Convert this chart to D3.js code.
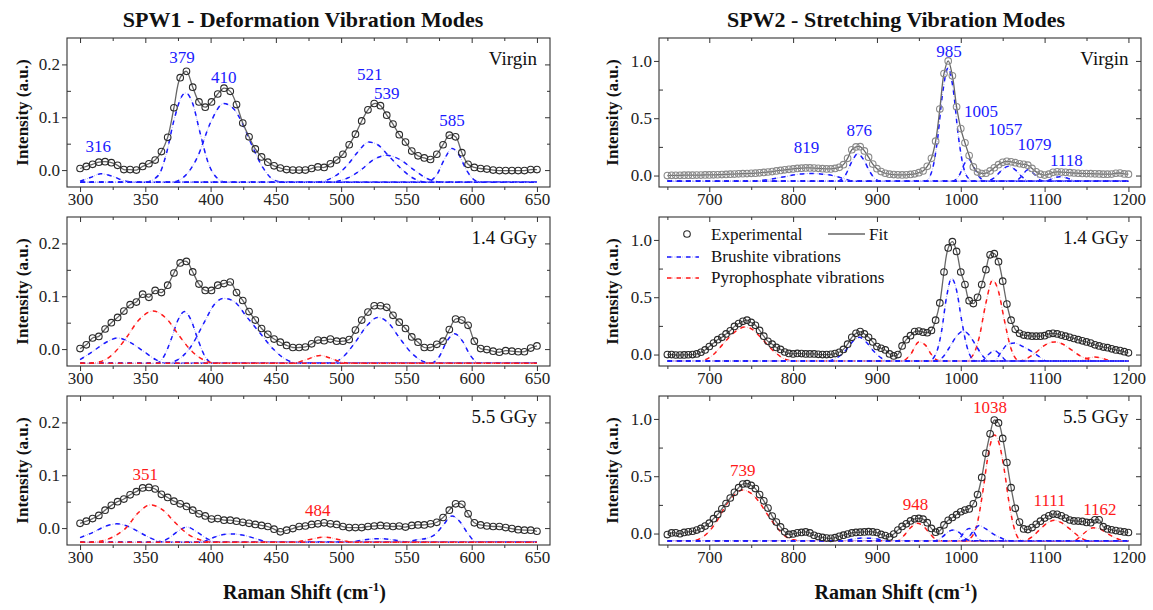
<!DOCTYPE html>
<html><head><meta charset="utf-8">
<script src="https://cdn.jsdelivr.net/npm/d3@7"></script>
<style>
body{margin:0;background:#fff;}
svg text{font-family:"Liberation Serif","Times New Roman",serif;}
</style></head><body>
<svg id="chart" width="1153" height="610"></svg>
<script>
// ---------- DATA ----------
const spw1X = d3.range(74).map(i => 300 + i * 350 / 73);   // sampling grid 300..650
const spw2X = d3.range(650, 1201, 5);                      // sampling grid 650..1200

const spw1VirginExp = [0.003,0.007,0.011,0.015,0.016,0.014,0.009,0.001,0.001,0.000,
 0.007,0.012,0.019,0.035,0.062,0.118,0.175,0.187,0.157,0.129,
 0.119,0.129,0.144,0.155,0.149,0.124,0.089,0.063,0.040,0.025,
 0.015,0.008,0.004,0.001,0.000,0.000,0.000,0.003,0.006,0.005,
 0.012,0.019,0.030,0.048,0.068,0.093,0.114,0.126,0.122,0.104,
 0.087,0.067,0.053,0.036,0.027,0.023,0.020,0.030,0.048,0.066,
 0.063,0.033,0.011,0.005,0.003,0.002,0.000,-0.001,-0.001,-0.001,
 -0.001,-0.001,0.001,0.001];
const spw1Gy14Exp = [0.001,0.008,0.021,0.024,0.038,0.050,0.060,0.072,0.084,0.089,
 0.104,0.098,0.111,0.107,0.121,0.144,0.163,0.166,0.146,0.123,
 0.111,0.111,0.121,0.124,0.127,0.107,0.092,0.071,0.055,0.039,
 0.028,0.019,0.013,0.007,0.003,0.003,0.004,0.010,0.017,0.016,
 0.019,0.015,0.015,0.018,0.036,0.055,0.070,0.082,0.082,0.079,
 0.064,0.051,0.039,0.023,0.013,0.003,0.003,0.009,0.015,0.037,
 0.057,0.055,0.045,0.015,0.001,-0.001,-0.004,-0.006,-0.003,-0.004,
 -0.005,-0.005,0.002,0.006];
const spw1Gy55Exp = [0.009,0.013,0.018,0.024,0.034,0.043,0.050,0.055,0.063,0.069,
 0.076,0.077,0.074,0.064,0.058,0.051,0.046,0.041,0.034,0.027,
 0.023,0.017,0.018,0.015,0.015,0.013,0.011,0.009,0.007,0.005,
 0.003,-0.002,-0.007,-0.004,-0.001,0.003,0.004,0.007,0.008,0.010,
 0.008,0.007,0.003,0.001,0.001,0.001,0.003,0.004,0.005,0.004,
 0.003,0.004,0.002,0.005,0.006,0.006,0.008,0.011,0.020,0.034,
 0.046,0.045,0.027,0.010,0.006,0.004,0.003,0.003,0.001,-0.001,
 -0.003,-0.004,-0.004,-0.006];

const spw2VirginExp = [0.000,0.002,0.002,0.002,0.003,0.003,0.003,0.004,0.004,0.005,
 0.005,0.006,0.007,0.008,0.010,0.012,0.013,0.015,0.016,0.017,
 0.019,0.021,0.024,0.027,0.031,0.035,0.040,0.045,0.050,0.054,
 0.058,0.062,0.064,0.066,0.066,0.065,0.063,0.060,0.058,0.058,
 0.062,0.072,0.095,0.150,0.225,0.250,0.252,0.215,0.160,0.100,
 0.060,0.035,0.020,0.012,0.008,0.006,0.005,0.006,0.010,0.015,
 0.025,0.040,0.080,0.150,0.300,0.580,0.890,1.000,0.870,0.600,
 0.410,0.285,0.175,0.075,0.030,0.018,0.020,0.040,0.068,0.095,
 0.115,0.124,0.120,0.112,0.103,0.098,0.090,0.062,0.032,0.012,
 0.004,0.012,0.028,0.032,0.030,0.028,0.025,0.022,0.020,0.018,
 0.017,0.016,0.015,0.014,0.012,0.012,0.013,0.020,0.022,0.014,
 0.012];
const spw2Gy14Exp = [0.000,0.000,-0.004,-0.004,-0.003,-0.002,0.000,0.005,0.020,0.040,
 0.070,0.100,0.130,0.150,0.180,0.207,0.245,0.270,0.290,0.300,
 0.280,0.255,0.210,0.160,0.115,0.090,0.062,0.045,0.022,0.010,
 0.005,0.010,0.008,0.005,0.005,0.005,0.002,0.000,0.000,0.002,
 0.008,0.020,0.045,0.090,0.150,0.185,0.200,0.180,0.150,0.110,
 0.070,0.055,0.040,0.005,-0.012,0.000,0.075,0.130,0.165,0.200,
 0.205,0.195,0.190,0.210,0.300,0.450,0.720,0.930,0.985,0.900,
 0.720,0.610,0.470,0.445,0.500,0.610,0.740,0.870,0.880,0.810,
 0.640,0.440,0.300,0.220,0.185,0.170,0.165,0.160,0.160,0.160,
 0.165,0.180,0.185,0.180,0.170,0.160,0.150,0.140,0.130,0.120,
 0.110,0.100,0.085,0.075,0.065,0.060,0.050,0.040,0.035,0.025,
 0.015];
const spw2Gy55Exp = [-0.009,0.005,0.006,-0.002,0.010,0.015,0.020,0.030,0.045,0.065,
 0.090,0.130,0.167,0.216,0.262,0.310,0.360,0.400,0.432,0.435,
 0.420,0.392,0.340,0.285,0.222,0.152,0.100,0.058,0.015,-0.008,
 -0.003,0.006,0.010,0.014,0.005,-0.015,-0.026,-0.034,-0.040,-0.042,
 -0.036,-0.024,-0.014,-0.004,0.005,0.010,0.012,0.014,0.016,0.014,
 0.009,-0.008,-0.018,-0.030,-0.005,0.030,0.062,0.085,0.110,0.128,
 0.132,0.125,0.095,0.045,0.012,0.025,0.075,0.115,0.140,0.165,
 0.190,0.205,0.215,0.260,0.340,0.490,0.700,0.870,0.990,0.965,
 0.830,0.620,0.400,0.220,0.100,0.040,0.035,0.052,0.080,0.108,
 0.135,0.155,0.170,0.168,0.155,0.135,0.118,0.110,0.109,0.106,
 0.097,0.095,0.120,0.120,0.060,0.040,0.033,0.026,0.020,0.014,
 0.009];

// fitted component bands: [shift, intensity] (b = brushite, r = pyrophosphate)
const spw1VirginComps = [
 {c:'b', pts:[[300,-0.021],[308,-0.014],[316,-0.007],[324,-0.011],[335,-0.021],[345,-0.023]]},
 {c:'b', pts:[[350,-0.023],[360,-0.010],[366,0.030],[372,0.095],[378,0.140],[381,0.146],[386,0.128],[392,0.070],[398,0.015],[405,-0.015],[412,-0.023]]},
 {c:'b', pts:[[370,-0.023],[380,-0.012],[390,0.025],[400,0.090],[410,0.126],[418,0.115],[425,0.085],[432,0.045],[440,0.005],[448,-0.018],[456,-0.023]]},
 {c:'b', pts:[[480,-0.023],[495,-0.012],[505,0.010],[513,0.035],[521,0.053],[528,0.048],[536,0.028],[545,0.005],[555,-0.015],[565,-0.023]]},
 {c:'b', pts:[[490,-0.023],[505,-0.015],[515,0.000],[525,0.020],[535,0.028],[545,0.020],[555,0.002],[565,-0.015],[578,-0.023]]},
 {c:'b', pts:[[565,-0.023],[573,-0.010],[579,0.020],[585,0.041],[590,0.030],[596,0.000],[603,-0.020],[610,-0.023]]}
];
const spw1Gy14Comps = [
 {c:'b', pts:[[300,-0.020],[310,-0.004],[320,0.013],[329,0.021],[338,0.013],[348,-0.003],[358,-0.020],[366,-0.027]]},
 {c:'b', pts:[[358,-0.027],[364,-0.015],[370,0.020],[375,0.055],[380,0.071],[385,0.055],[390,0.020],[396,-0.015],[402,-0.027]]},
 {c:'b', pts:[[365,-0.027],[375,-0.020],[385,0.005],[395,0.050],[403,0.085],[410,0.096],[418,0.090],[428,0.060],[438,0.030],[448,0.000],[458,-0.020],[468,-0.027]]},
 {c:'b', pts:[[490,-0.027],[500,-0.018],[510,0.010],[520,0.045],[528,0.060],[536,0.050],[545,0.020],[555,-0.010],[565,-0.025],[572,-0.027]]},
 {c:'b', pts:[[568,-0.027],[575,-0.015],[581,0.015],[587,0.029],[593,0.015],[599,-0.012],[606,-0.027]]},
 {c:'r', pts:[[305,-0.027],[315,-0.024],[325,-0.010],[335,0.020],[345,0.055],[356,0.072],[366,0.058],[376,0.025],[386,-0.005],[396,-0.022],[406,-0.027]]},
 {c:'r', pts:[[462,-0.027],[472,-0.021],[484,-0.012],[496,-0.021],[506,-0.027]]}
];
const spw1Gy55Comps = [
 {c:'b', pts:[[300,-0.018],[310,-0.008],[320,0.004],[328,0.008],[337,0.003],[347,-0.010],[357,-0.022],[365,-0.027]]},
 {c:'b', pts:[[360,-0.027],[368,-0.019],[375,-0.006],[382,0.002],[390,-0.008],[398,-0.021],[405,-0.027]]},
 {c:'b', pts:[[392,-0.027],[400,-0.020],[408,-0.013],[416,-0.011],[426,-0.014],[436,-0.021],[446,-0.027]]},
 {c:'b', pts:[[505,-0.027],[518,-0.022],[530,-0.020],[542,-0.023],[552,-0.027]]},
 {c:'b', pts:[[548,-0.027],[558,-0.022],[566,-0.019],[572,-0.012],[578,0.005],[585,0.023],[591,0.012],[597,-0.010],[604,-0.027]]},
 {c:'r', pts:[[305,-0.027],[315,-0.025],[325,-0.017],[335,0.000],[345,0.030],[354,0.044],[363,0.035],[373,0.010],[383,-0.012],[393,-0.023],[403,-0.027]]},
 {c:'r', pts:[[462,-0.027],[475,-0.022],[487,-0.017],[499,-0.022],[510,-0.027]]}
];
const spw2VirginComps = [
 {c:'r', pts:[]},
 {c:'b', pts:[[750,-0.05],[770,-0.035],[790,-0.010],[805,0.010],[820,0.018],[835,0.012],[850,-0.005],[862,-0.030],[872,-0.05]]},
 {c:'b', pts:[[852,-0.05],[862,0.000],[870,0.120],[877,0.190],[884,0.140],[891,0.040],[898,-0.030],[905,-0.05]]},
 {c:'b', pts:[[958,-0.05],[966,0.050],[972,0.300],[978,0.700],[985,0.940],[991,0.750],[997,0.350],[1003,0.080],[1010,-0.030],[1016,-0.05]]},
 {c:'b', pts:[[990,-0.05],[998,0.000],[1005,0.110],[1010,0.140],[1015,0.080],[1022,-0.010],[1030,-0.05]]},
 {c:'b', pts:[[1030,-0.05],[1040,-0.020],[1048,0.040],[1057,0.080],[1065,0.050],[1073,-0.010],[1082,-0.05]]},
 {c:'b', pts:[[1065,-0.05],[1072,-0.010],[1080,0.050],[1088,0.010],[1095,-0.040],[1100,-0.05]]},
 {c:'b', pts:[[1100,-0.05],[1110,-0.025],[1118,-0.010],[1128,-0.025],[1140,-0.05]]}
];
const spw2Gy14Comps = [
 {c:'r', pts:[[685,-0.056],[695,-0.045],[705,0.000],[715,0.080],[725,0.160],[735,0.220],[742,0.240],[750,0.225],[760,0.160],[770,0.080],[780,0.010],[790,-0.040],[800,-0.056]]},
 {c:'r', pts:[[930,-0.056],[940,0.000],[950,0.110],[958,0.080],[965,0.000],[972,-0.050],[978,-0.056]]},
 {c:'r', pts:[[1005,-0.056],[1015,0.000],[1022,0.150],[1030,0.450],[1038,0.650],[1045,0.550],[1052,0.300],[1060,0.050],[1068,-0.050],[1072,-0.056]]},
 {c:'r', pts:[[1070,-0.056],[1080,-0.030],[1090,0.020],[1100,0.080],[1112,0.110],[1122,0.090],[1132,0.040],[1142,-0.010],[1152,-0.040],[1160,-0.056]]},
 {c:'r', pts:[[1140,-0.056],[1150,-0.035],[1160,-0.022],[1170,-0.035],[1180,-0.056]]},
 {c:'b', pts:[[842,-0.056],[852,-0.030],[862,0.030],[872,0.120],[879,0.150],[887,0.110],[896,0.030],[905,-0.030],[912,-0.056]]},
 {c:'b', pts:[[962,-0.056],[970,0.000],[977,0.200],[983,0.500],[989,0.665],[995,0.560],[1001,0.300],[1007,0.080],[1013,-0.030],[1020,-0.056]]},
 {c:'b', pts:[[972,-0.056],[980,-0.010],[988,0.080],[996,0.170],[1003,0.205],[1010,0.170],[1018,0.080],[1026,-0.010],[1034,-0.056]]},
 {c:'b', pts:[[1025,-0.056],[1033,0.000],[1040,0.035],[1047,0.000],[1055,-0.056]]},
 {c:'b', pts:[[1040,-0.056],[1048,0.020],[1056,0.090],[1064,0.100],[1074,0.070],[1084,0.030],[1094,-0.020],[1102,-0.056]]}
];
const spw2Gy55Comps = [
 {c:'r', pts:[[680,-0.062],[690,-0.040],[700,0.020],[710,0.120],[720,0.250],[730,0.340],[740,0.380],[750,0.350],[760,0.270],[770,0.160],[780,0.060],[790,-0.020],[800,-0.055],[808,-0.062]]},
 {c:'r', pts:[[925,-0.062],[932,-0.020],[940,0.050],[948,0.090],[956,0.060],[963,0.000],[970,-0.050],[976,-0.062]]},
 {c:'r', pts:[[1005,-0.062],[1013,-0.030],[1020,0.100],[1027,0.400],[1033,0.700],[1040,0.860],[1046,0.780],[1052,0.550],[1058,0.250],[1064,0.040],[1070,-0.050],[1076,-0.062]]},
 {c:'r', pts:[[1075,-0.062],[1085,-0.030],[1095,0.040],[1105,0.100],[1112,0.115],[1120,0.095],[1130,0.040],[1140,-0.020],[1148,-0.055],[1152,-0.062]]},
 {c:'r', pts:[[1135,-0.062],[1142,-0.030],[1150,0.020],[1158,0.050],[1166,0.040],[1175,0.000],[1185,-0.040],[1195,-0.062]]},
 {c:'b', pts:[[860,-0.062],[870,-0.050],[882,-0.040],[895,-0.042],[905,-0.055],[910,-0.062]]},
 {c:'b', pts:[[970,-0.062],[978,-0.030],[986,0.020],[992,0.030],[998,0.010],[1005,-0.040],[1012,-0.062]]},
 {c:'b', pts:[[995,-0.062],[1000,-0.030],[1005,0.020],[1010,0.045],[1015,0.020],[1020,-0.040],[1025,-0.062]]},
 {c:'b', pts:[[1000,-0.062],[1008,-0.040],[1015,0.020],[1022,0.070],[1030,0.040],[1040,-0.010],[1050,-0.045],[1058,-0.062]]}
];

// band labels: [text, shift, intensity(baseline)]
const spw1VirginPeaks = [['316',314,0.035],['379',378,0.203],['410',410,0.165],['521',522,0.171],['539',535,0.135],['585',585,0.084]];
const spw1Gy55Peaks = [['351',350,0.091],['484',482,0.023]];
const spw2VirginPeaks = [['819',816,0.197],['876',879,0.347],['985',986,1.035],['1005',1024,0.51],['1057',1053,0.355],['1079',1088,0.22],['1118',1126,0.08]];
const spw2Gy55Peaks = [['739',740,0.503],['948',946,0.204],['1038',1035,1.052],['1111',1106,0.238],['1162',1166,0.158]];

const titles = ['SPW1 - Deformation Vibration Modes', 'SPW2 - Stretching Vibration Modes'];
const doses = ['Virgin', '1.4 GGy', '5.5 GGy'];
const legendItems = ['Experimental', 'Fit', 'Brushite vibrations', 'Pyrophosphate vibrations'];
const spw1XTicks = [300,350,400,450,500,550,600,650];
const spw1XMinor = [325,375,425,475,525,575,625];
const spw2XTicks = [700,800,900,1000,1100,1200];
const spw2XMinor = [650,750,850,950,1050,1150];
const spw1YTicks = [0.0,0.1,0.2];
const spw1YMinor = [0.05,0.15];
const spw2YTicks = [0.0,0.5,1.0];
const spw2YMinor = [0.25,0.75];

// ---------- LAYOUT ----------
const svg = d3.select('#chart');
const FONT = '"Liberation Serif","Times New Roman",serif';
const BLUE = '#1a1aff', RED = '#ff1a1a';
const LIGHT = {b:'#a9a9ff', r:'#ffa9a9'};
const rowTops = [38, 217, 396], PH = 149;
const cols = [
 {x0:67, x1:550, xdom:[290,660], ydom:[-0.032,0.25], xs:spw1X, xt:spw1XTicks, xm:spw1XMinor, yt:spw1YTicks, ym:spw1YMinor, ylabX:22, titleX:303},
 {x0:659, x1:1141, xdom:[640,1215], ydom:[-0.1,1.2], xs:spw2X, xt:spw2XTicks, xm:spw2XMinor, yt:spw2YTicks, ym:spw2YMinor, ylabX:612, titleX:896}
];
const panels = [
 {col:0,row:0,exp:spw1VirginExp,comps:spw1VirginComps,base:-0.023,peaks:spw1VirginPeaks,pc:BLUE,ec:'#2a2a2a'},
 {col:0,row:1,exp:spw1Gy14Exp,comps:spw1Gy14Comps,base:-0.027,peaks:[],pc:BLUE,ec:'#2a2a2a'},
 {col:0,row:2,exp:spw1Gy55Exp,comps:spw1Gy55Comps,base:-0.027,peaks:spw1Gy55Peaks,pc:RED,ec:'#2a2a2a'},
 {col:1,row:0,exp:spw2VirginExp,comps:spw2VirginComps,base:-0.05,peaks:spw2VirginPeaks,pc:BLUE,ec:'#8a8a8a'},
 {col:1,row:1,exp:spw2Gy14Exp,comps:spw2Gy14Comps,base:-0.056,peaks:[],pc:BLUE,ec:'#2a2a2a',legend:true},
 {col:1,row:2,exp:spw2Gy55Exp,comps:spw2Gy55Comps,base:-0.062,peaks:spw2Gy55Peaks,pc:RED,ec:'#2a2a2a'}
];

// dash-dot component stroke: faint dotted under-line + dashes
function compStroke(sel, key){
  sel.append('path').attr('fill','none').attr('stroke',LIGHT[key]).attr('stroke-width',1).attr('stroke-dasharray','1,1.5');
  sel.append('path').attr('fill','none').attr('stroke',key==='b'?BLUE:RED).attr('stroke-width',1.5).attr('stroke-dasharray','4.5,5');
}

// titles
cols.forEach((c,i)=>{
  svg.append('text').attr('x',c.titleX).attr('y',27).attr('text-anchor','middle')
    .attr('font-size',22).attr('font-weight','bold').attr('fill','#111').text(titles[i]);
  const t = svg.append('text').attr('x',(c.x0+c.x1)/2 - 4).attr('y',599).attr('text-anchor','middle')
    .attr('font-size',20).attr('font-weight','bold').attr('fill','#111');
  t.append('tspan').text('Raman Shift (cm');
  t.append('tspan').attr('font-size',13).attr('dy',-8).text('-1');
  t.append('tspan').attr('dy',8).text(')');
});

panels.forEach((p,pi)=>{
  const c = cols[p.col];
  const top = rowTops[p.row], bot = top + PH;
  const x = d3.scaleLinear().domain(c.xdom).range([c.x0,c.x1]);
  const y = d3.scaleLinear().domain(c.ydom).range([bot,top]);
  const g = svg.append('g');
  const fmtY = d3.format('.1f');

  const styleAxis = sel => { sel.select('.domain').remove(); sel.attr('font-family',FONT).attr('font-size',17);
    sel.selectAll('line').attr('stroke','#333'); sel.selectAll('text').attr('fill','#222'); };
  g.append('g').attr('transform',`translate(0,${bot})`).call(d3.axisBottom(x).tickValues(c.xt).tickSize(5).tickPadding(1).tickFormat(d3.format('d'))).call(styleAxis);
  g.append('g').attr('transform',`translate(0,${bot})`).call(d3.axisBottom(x).tickValues(c.xm).tickSize(3).tickFormat('')).call(styleAxis);
  g.append('g').attr('transform',`translate(0,${top})`).call(d3.axisTop(x).tickValues(c.xt).tickSize(-5).tickFormat('')).call(styleAxis);
  g.append('g').attr('transform',`translate(0,${top})`).call(d3.axisTop(x).tickValues(c.xm).tickSize(-3).tickFormat('')).call(styleAxis);
  g.append('g').attr('transform',`translate(${c.x0},0)`).call(d3.axisLeft(y).tickValues(c.yt).tickSize(5).tickPadding(2).tickFormat(fmtY)).call(styleAxis);
  g.append('g').attr('transform',`translate(${c.x0},0)`).call(d3.axisLeft(y).tickValues(c.ym).tickSize(-4).tickFormat('')).call(styleAxis);
  g.append('g').attr('transform',`translate(${c.x1},0)`).call(d3.axisRight(y).tickValues(c.yt).tickSize(-5).tickFormat('')).call(styleAxis);
  g.append('g').attr('transform',`translate(${c.x1},0)`).call(d3.axisRight(y).tickValues(c.ym).tickSize(-3).tickFormat('')).call(styleAxis);

  // y label
  g.append('text').attr('transform',`translate(${c.ylabX},${top+PH/2}) rotate(-90)`)
    .attr('text-anchor','middle').attr('dy','0.35em').attr('font-size',17).attr('font-weight','bold').attr('fill','#111')
    .text('Intensity (a.u.)');

  const clipId = 'clip'+pi;
  svg.append('clipPath').attr('id',clipId).append('rect').attr('x',c.x0).attr('y',top).attr('width',c.x1-c.x0).attr('height',PH);
  const plot = g.append('g').attr('clip-path',`url(#${clipId})`);

  const xmin = c.xs[0], xmax = c.xs[c.xs.length-1];
  const compLine = d3.line().x(d=>x(d[0])).y(d=>y(d[1])).curve(d3.curveMonotoneX);
  p.comps.forEach(cp=>{
    let pts = cp.pts.slice();
    if (!pts.length || pts[0][0] > xmin) pts.unshift([xmin,p.base]);
    if (pts[pts.length-1][0] < xmax) pts.push([xmax,p.base]);
    const cg = plot.append('g');
    compStroke(cg, cp.c);
    cg.selectAll('path').attr('d',compLine(pts));
  });

  const expPts = p.exp.map((v,i)=>[c.xs[i],v]);
  const fit = d3.line().x(d=>x(d[0])).y(d=>y(d[1])).curve(d3.curveCatmullRom);
  plot.append('path').attr('d',fit(expPts)).attr('fill','none').attr('stroke','#666').attr('stroke-width',1.3);
  plot.selectAll('circle.e').data(expPts).join('circle').attr('class','e')
    .attr('cx',d=>x(d[0])).attr('cy',d=>y(d[1])).attr('r',3.3)
    .attr('fill','none').attr('stroke',p.ec).attr('stroke-width',1.1);

  g.append('rect').attr('x',c.x0).attr('y',top).attr('width',c.x1-c.x0).attr('height',PH)
    .attr('fill','none').attr('stroke','#333').attr('stroke-width',1.1);

  // dose label
  g.append('text').attr('x',x(c.xt[c.xt.length-1])).attr('y',top+27).attr('text-anchor','end')
    .attr('font-size',19).attr('fill','#111').text(doses[p.row]);

  p.peaks.forEach(pk=>{
    g.append('text').attr('x',x(pk[1])).attr('y',y(pk[2])).attr('text-anchor','middle')
      .attr('font-size',17).attr('fill',p.pc).text(pk[0]);
  });

  if (p.legend){
    const lx = c.x0, ly = top;
    g.append('circle').attr('cx',lx+28).attr('cy',ly+17).attr('r',3.3).attr('fill','none').attr('stroke','#2a2a2a').attr('stroke-width',1.1);
    g.append('text').attr('x',lx+52).attr('y',ly+23).attr('font-size',17).attr('fill','#111').text(legendItems[0]);
    g.append('line').attr('x1',lx+169).attr('x2',lx+206).attr('y1',ly+17).attr('y2',ly+17).attr('stroke','#666').attr('stroke-width',1.3);
    g.append('text').attr('x',lx+210).attr('y',ly+23).attr('font-size',17).attr('fill','#111').text(legendItems[1]);
    [['b',legendItems[2],40],['r',legendItems[3],61]].forEach(([key,txt,yy])=>{
      const lg = g.append('g');
      compStroke(lg, key);
      lg.selectAll('path').attr('d',`M${lx+8},${ly+yy}H${lx+40}`);
      g.append('text').attr('x',lx+52).attr('y',ly+yy+5).attr('font-size',17).attr('fill','#111').text(txt);
    });
  }
});
</script>
</body></html>
